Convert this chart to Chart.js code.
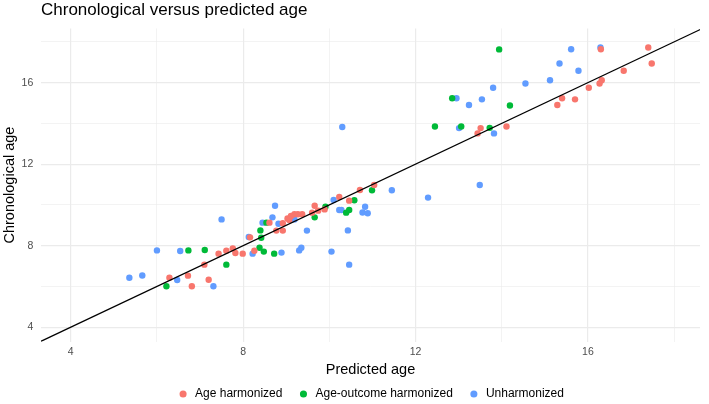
<!DOCTYPE html>
<html>
<head>
<meta charset="utf-8">
<script src="https://cdn.jsdelivr.net/npm/chart.js@4.4.1/dist/chart.umd.min.js"></script>
<style>
html,body{margin:0;padding:0;background:#fff;}
</style>
</head>
<body>
<canvas id="grafico" width="709" height="404"></canvas>
<script>
// valores
const ageHarmX = [6.29,6.72,6.81,7.20,7.10,7.43,7.61,7.76,7.82,7.99,8.16,8.26,8.61,8.77,8.92,8.92,9.03,9.07,9.11,9.19,9.27,9.37,9.60,9.66,9.74,9.89,10.23,10.46,10.71,11.04,13.44,13.51,14.11,15.29,15.40,15.70,16.02,16.27,16.32,16.30,16.83,17.40,17.48];
const ageHarmY = [6.43,6.53,6.01,6.33,7.07,7.61,7.75,7.87,7.64,7.61,8.41,7.75,9.13,8.74,8.74,9.10,9.34,9.26,9.46,9.54,9.54,9.54,9.62,9.96,9.72,9.78,10.39,10.21,10.73,10.98,13.51,13.77,13.85,14.90,15.23,15.18,15.75,15.96,16.12,17.64,16.58,17.72,16.94];

const outcomeHarmX = [6.22,6.73,7.11,7.61,8.38,8.48,8.72,8.40,8.42,8.54,9.66,9.91,10.39,10.46,10.58,10.99,12.45,12.85,13.06,13.72,13.94,14.19];
const outcomeHarmY = [6.01,7.77,7.79,7.07,7.90,7.71,7.61,8.75,8.39,9.13,9.39,9.91,9.62,9.75,10.23,10.72,13.85,15.23,13.85,13.78,17.63,14.88];

const unharmX = [5.36,5.66,6.00,6.47,6.54,7.31,7.50,8.13,8.22,8.45,8.68,8.74,8.82,8.89,9.19,9.30,9.35,9.48,10.05,10.10,10.23,10.28,10.43,10.46,10.77,10.83,10.89,11.45,12.29,13.49,10.30,12.95,13.01,13.24,13.54,13.80,13.82,14.55,15.12,15.34,15.61,15.78,16.29];
const unharmY = [6.43,6.54,7.77,6.32,7.74,6.01,9.29,8.43,7.61,9.13,9.39,9.96,9.08,7.66,9.29,7.77,7.90,8.74,7.71,10.24,9.75,9.75,8.75,7.07,9.63,9.91,9.59,10.72,10.36,10.98,13.82,15.23,13.77,14.90,15.18,15.75,13.51,15.96,16.12,16.94,17.64,16.58,17.72];

const seriesNames = ['Age harmonized','Age-outcome harmonized','Unharmonized'];
const gridValues = [4,6,8,10,12,14,16,18];
const tickLabels = [4,8,12,16];
const xLimits = [3.31, 18.6];
const yLimits = [3.29, 18.66];
const identityLine = [3, 19];

const colors = ['#F8766D','#00BA38','#619CFF'];
const fonte = "'Liberation Sans', Arial, Helvetica, sans-serif";

function pontos(xs, ys){
    let lista = [];
    for(let i = 0; i < xs.length; i++){
        lista.push({x: xs[i], y: ys[i]});
    }
    return lista;
}

function larguraGrade(ctx){
    if(!ctx.tick) return 0.6;
    return tickLabels.includes(ctx.tick.value) ? 1.2 : 0.6;
}

function serie(nome, xs, ys, cor){
    return {
        type:'scatter',
        label: nome,
        data: pontos(xs, ys),
        backgroundColor: cor,
        borderWidth: 0,
        pointRadius: 3.2,
        pointStyle: 'circle',
        order: 1
    };
}

new Chart(document.getElementById('grafico'),{
    type:'scatter',
    data:{
        datasets:[
            serie(seriesNames[0], ageHarmX, ageHarmY, colors[0]),
            serie(seriesNames[1], outcomeHarmX, outcomeHarmY, colors[1]),
            serie(seriesNames[2], unharmX, unharmY, colors[2]),
            {
                type:'line',
                label:'identidade',
                data: identityLine.map(v => ({x: v, y: v})),
                borderColor:'#000',
                borderWidth:1.3,
                pointRadius:0,
                fill:false,
                order:0
            }
        ]
    },
    options:{
        responsive:false,
        animation:false,
        layout:{padding:{left:0, right:9, top:0, bottom:-6}},
        plugins:{
            tooltip:{enabled:false},
            title:{
                display:true,
                text:'Chronological versus predicted age',
                align:'start',
                fullSize:false,
                color:'#000',
                font:{family:fonte, size:17, weight:'normal'},
                padding:{top:0, bottom:8}
            },
            legend:{
                position:'bottom',
                fullSize:false,
                labels:{
                    usePointStyle:true,
                    boxWidth:12,
                    boxHeight:5,
                    padding:15,
                    color:'#000',
                    font:{family:fonte, size:12},
                    filter: item => item.datasetIndex < 3
                }
            }
        },
        scales:{
            x:{
                type:'linear',
                min:xLimits[0],
                max:xLimits[1],
                afterBuildTicks: s => { s.ticks = gridValues.map(v => ({value:v})); },
                afterFit: s => { s.height = 31.3; },
                grid:{color:'#ebebeb', lineWidth:larguraGrade, drawTicks:false},
                border:{display:false},
                ticks:{
                    padding:4,
                    color:'#4d4d4d',
                    autoSkip:false,
                    maxRotation:0,
                    font:{family:fonte, size:10.5},
                    callback: v => tickLabels.includes(v) ? String(v) : ''
                },
                title:{
                    display:true,
                    text:'Predicted age',
                    color:'#000',
                    font:{family:fonte, size:14.5},
                    padding:{top:0, bottom:-5.4}
                }
            },
            y:{
                type:'linear',
                min:yLimits[0],
                max:yLimits[1],
                afterBuildTicks: s => { s.ticks = gridValues.map(v => ({value:v})); },
                afterFit: s => { s.width = 41; },
                grid:{color:'#ebebeb', lineWidth:larguraGrade, drawTicks:false},
                border:{display:false},
                ticks:{
                    padding:7.7,
                    color:'#4d4d4d',
                    autoSkip:false,
                    font:{family:fonte, size:10.5},
                    callback: v => tickLabels.includes(v) ? String(v) : ''
                },
                title:{
                    display:true,
                    text:'Chronological age',
                    color:'#000',
                    font:{family:fonte, size:14.5},
                    padding:{top:1.6, bottom:0}
                }
            }
        }
    }
});
</script>
</body>
</html>
